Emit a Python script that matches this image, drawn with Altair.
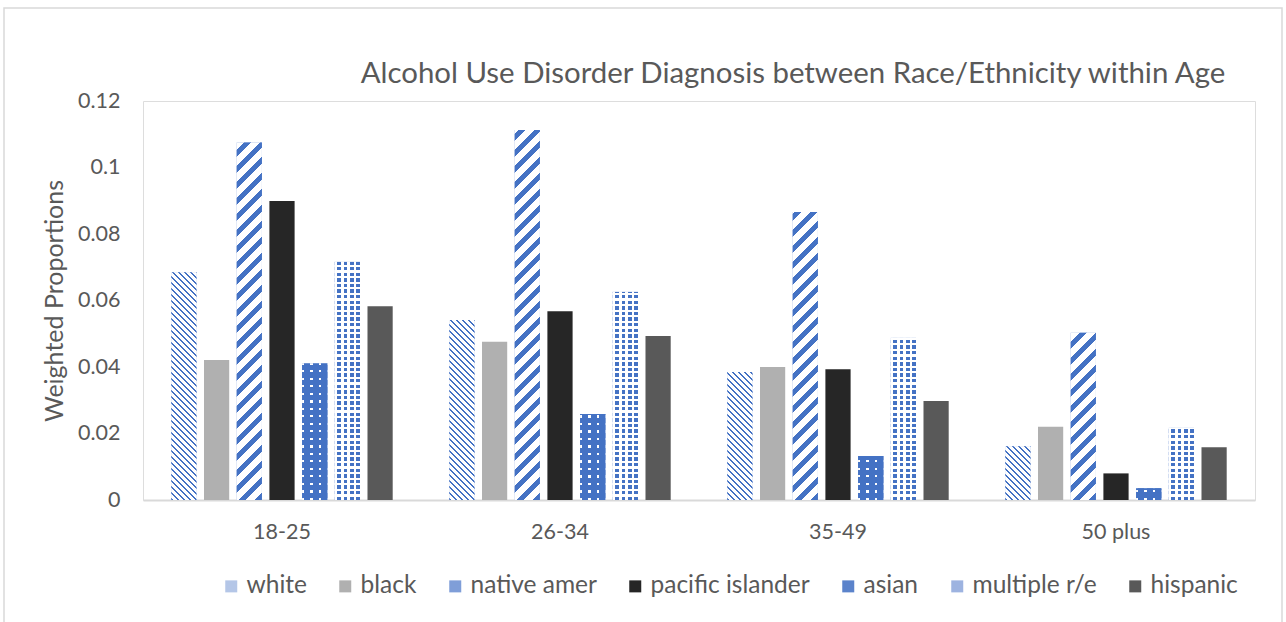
import altair as alt
import pandas as pd

# ---------------- data ----------------
ages = ["18-25", "26-34", "35-49", "50 plus"]
races = ["white", "black", "native amer", "pacific islander", "asian", "multiple r/e", "hispanic"]
white = [0.0685, 0.0541, 0.0385, 0.0162]
black = [0.0421, 0.0476, 0.0400, 0.0220]
native_amer = [0.1075, 0.1113, 0.0866, 0.0503]
pacific_islander = [0.0899, 0.0568, 0.0393, 0.0080]
asian = [0.0411, 0.0259, 0.0132, 0.0035]
multiple_re = [0.0717, 0.0627, 0.0488, 0.0217]
hispanic = [0.0583, 0.0493, 0.0298, 0.0159]
y_ticks = [0, 0.02, 0.04, 0.06, 0.08, 0.1, 0.12]
title_text = "Alcohol Use Disorder Diagnosis between Race/Ethnicity within Age"

series = {
    "white": white, "black": black, "native amer": native_amer,
    "pacific islander": pacific_islander, "asian": asian,
    "multiple r/e": multiple_re, "hispanic": hispanic,
}
rows = []
for r in races:
    for a, v in zip(ages, series[r]):
        rows.append({"age": a, "race": r, "value": v})
df = pd.DataFrame(rows)

# ---------------- layout / style ----------------
W, H, YMAX = 1112, 399, 0.12
X_PAD_IN, X_PAD_OUT = 0.2036, 0.1018
O_PAD_IN = 0.229
BLUE = "#4472C4"
CLEAR = "rgba(68,114,196,0)"
CLEAR_W = "rgba(255,255,255,0)"
TXT = "#595959"
FONT = "Lato"

legend_colors = ["#B4C6E7", "#B0B0B0", "#7F9ED8", "#262626", "#5B83CB", "#9DB3E0", "#595959"]

step_x = W / (len(ages) - X_PAD_IN + 2 * X_PAD_OUT)
band_x = step_x * (1 - X_PAD_IN)
step_o = band_x / (len(races) - O_PAD_IN)
BAR_W = step_o * (1 - O_PAD_IN)


def px_height(v):
    return v / YMAX * H


def band_stops(total, period, on_frac, on, off):
    stops = []
    d = 0.0
    while d < total - 1e-9:
        a = d / total
        b = min((d + period * on_frac) / total, 1.0)
        c = min((d + period) / total, 1.0)
        stops += [(a, on), (b, on), (b, off), (c, off)]
        d += period
    return [{"offset": round(o, 5), "color": col} for o, col in stops]


def diag_gradient(h, period, on_frac, on, off, rising):
    w = BAR_W
    r = w / h
    b = (r + 1) / (r * r + 1)
    a = r * b
    if rising:   # "/"
        x1, y1, x2, y2 = 1, 1, 1 - a, 1 - b
    else:        # "\"
        x1, y1, x2, y2 = 0, 1, a, 1 - b
    return {"gradient": "linear", "x1": x1, "y1": y1, "x2": x2, "y2": y2,
            "stops": band_stops(w + h, period, on_frac, on, off)}


def row_gradient(h, period, on_frac, on, off):
    return {"gradient": "linear", "x1": 0, "y1": 1, "x2": 0, "y2": 0,
            "stops": band_stops(h, period, on_frac, on, off)}


def col_gradient(period, on_frac, on, off):
    return {"gradient": "linear", "x1": 0, "y1": 0, "x2": 1, "y2": 0,
            "stops": band_stops(BAR_W, period, on_frac, on, off)}


x_enc = alt.X("age:N", sort=ages,
              scale=alt.Scale(domain=ages, paddingInner=X_PAD_IN, paddingOuter=X_PAD_OUT),
              axis=alt.Axis(title=None, labelAngle=0, ticks=False, domainColor="#D9D9D9",
                            domainWidth=2, labelFont=FONT, labelFontSize=21.5, labelColor=TXT,
                            labelPadding=21))
xo_enc = alt.XOffset("race:N", sort=races,
                     scale=alt.Scale(domain=races, paddingInner=O_PAD_IN, paddingOuter=0))
y_enc = alt.Y("value:Q",
              scale=alt.Scale(domain=[0, YMAX], nice=False, zero=True),
              axis=alt.Axis(values=y_ticks, labelExpr="format(datum.value, '~g')",
                            grid=False, domain=False, ticks=False,
                            labelFont=FONT, labelFontSize=21.5, labelColor=TXT, labelPadding=23,
                            title="Weighted Proportions", titleFont=FONT, titleFontSize=25,
                            titleColor=TXT, titleFontWeight="normal", titlePadding=10))

base = alt.Chart(df)

solid = base.mark_bar().encode(
    x=x_enc, xOffset=xo_enc, y=y_enc,
    color=alt.Color("race:N", sort=races,
                    scale=alt.Scale(domain=races, range=legend_colors),
                    legend=alt.Legend(title=None, orient="none", direction="horizontal",
                                      legendX=76, legendY=473, symbolType="square",
                                      symbolSize=144, symbolStrokeWidth=0, labelOffset=3,
                                      columnPadding=26, labelFont=FONT, labelFontSize=24.5,
                                      labelColor=TXT, labelLimit=400)),
)

layers = [solid]


def bar_layer(age, race, fill):
    return base.transform_filter(
        (alt.datum.age == age) & (alt.datum.race == race)
    ).mark_bar(fill=fill).encode(x=x_enc, xOffset=xo_enc, y=y_enc)


for a, v in zip(ages, white):
    layers.append(bar_layer(a, "white", diag_gradient(px_height(v), 6.0, 0.42, BLUE, "white", False)))
for a, v in zip(ages, native_amer):
    layers.append(bar_layer(a, "native amer", diag_gradient(px_height(v), 16.0, 0.45, BLUE, "white", True)))
for a, v in zip(ages, asian):
    layers.append(bar_layer(a, "asian", row_gradient(px_height(v), 7.5, 0.27, "white", BLUE)))
for a, v in zip(ages, multiple_re):
    layers.append(bar_layer(a, "multiple r/e", row_gradient(px_height(v), 5.6, 0.6, BLUE, "white")))

# column overlays (same for every bar of a series since bar widths are equal)
layers.append(base.transform_filter(alt.datum.race == "asian").mark_bar(
    fill=col_gradient(BAR_W / 3, 0.27, CLEAR, BLUE)).encode(x=x_enc, xOffset=xo_enc, y=y_enc))
layers.append(base.transform_filter(alt.datum.race == "multiple r/e").mark_bar(
    fill=col_gradient(BAR_W / 4, 0.4, "white", CLEAR_W)).encode(x=x_enc, xOffset=xo_enc, y=y_enc))

deco = alt.Chart(pd.DataFrame({"title": [title_text]}))

frame = deco.mark_rect(
    filled=False, stroke="#D9D9D9", strokeWidth=1.5
).encode(x=alt.value(-139), x2=alt.value(1139), y=alt.value(-93), y2=alt.value(560))
layers.append(frame)

title_mark = deco.mark_text(
    font=FONT, fontSize=29.4, color=TXT, align="center", baseline="alphabetic"
).encode(text="title:N", x=alt.value(650), y=alt.value(-18))
layers.append(title_mark)

chart = alt.layer(*layers).properties(
    width=W, height=H,
    autosize=alt.AutoSizeParams(type="none"),
    padding={"left": 143, "top": 101, "right": 31, "bottom": 122},
).configure_view(stroke=None).configure(background="white")

chart.save("out.html", embed_options={"renderer": "svg", "actions": False})
